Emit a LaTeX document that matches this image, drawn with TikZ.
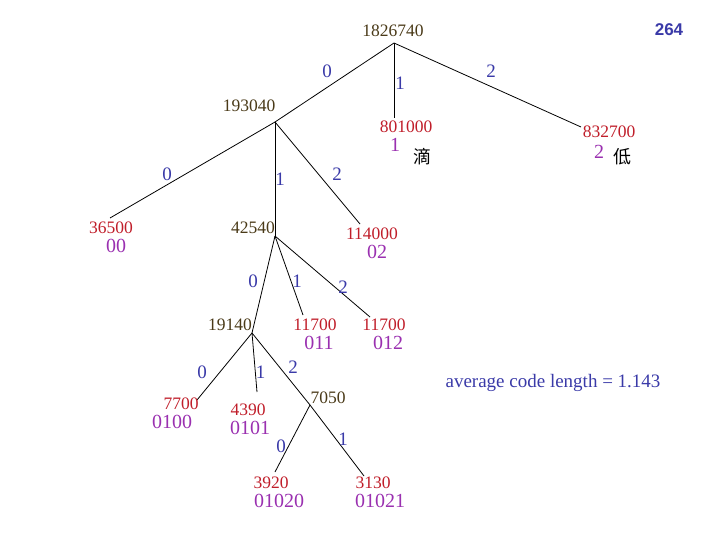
\documentclass[tikz,border=0pt]{standalone}
\usepackage{fontspec}
\setmainfont{Liberation Serif}
\newfontfamily\cjk{Noto Sans CJK SC}
\newfontfamily\arialb{Liberation Sans}
\definecolor{brn}{HTML}{4A3A18}
\definecolor{rd}{HTML}{C01E2A}
\definecolor{pur}{HTML}{9A30B0}
\definecolor{blu}{HTML}{3A3AA8}
\tikzset{
  edge/.style={draw=black, line width=0.8pt},
  inner/.style={text=brn, font=\fontsize{17.5}{17.5}\selectfont, inner sep=0pt},
  val/.style={text=rd, font=\fontsize{17.5}{17.5}\selectfont, inner sep=0pt},
  code/.style={text=pur, font=\fontsize{20}{20}\selectfont, inner sep=0pt},
  lab/.style={text=blu, font=\fontsize{19}{19}\selectfont, inner sep=0pt},
  chr/.style={text=black, font=\cjk\fontsize{18}{18}\selectfont, inner sep=0pt}
}
\begin{document}
\begin{tikzpicture}[x=1pt,y=-1pt]
\useasboundingbox (0,0) rectangle (720,540);
% vertices
\coordinate (r) at (394,43);
\coordinate (a) at (275,122);
\coordinate (b) at (275,236);
\coordinate (c) at (252,333);
\coordinate (d) at (310,405);
% leaf ends
\coordinate (e801) at (394,118);
\coordinate (e832) at (581,127);
\coordinate (e365) at (110,218);
\coordinate (e114) at (360,224);
\coordinate (e117a) at (303,315);
\coordinate (e117b) at (370,317);
\coordinate (e77) at (197,400);
\coordinate (e439) at (257,392);
\coordinate (e392) at (275,472);
\coordinate (e313) at (364,476);
% edges
\draw[edge] (r) -- (a);
\draw[edge] (r) -- (e801);
\draw[edge] (r) -- (e832);
\draw[edge] (a) -- (e365);
\draw[edge] (a) -- (b);
\draw[edge] (a) -- (e114);
\draw[edge] (b) -- (c);
\draw[edge] (b) -- (e117a);
\draw[edge] (b) -- (e117b);
\draw[edge] (c) -- (e77);
\draw[edge] (c) -- (e439);
\draw[edge] (c) -- (d);
\draw[edge] (d) -- (e392);
\draw[edge] (d) -- (e313);
% internal values
\node[inner] (nr) at (393,31) {1826740};
\node[inner] (na) at (249,106) {193040};
\node[inner] (nb) at (253,228) {42540};
\node[inner] (nc) at (230,325) {19140};
\node[inner] (nd) at (328,398) {7050};
% leaves
\node[val] (v801) at (406,127) {801000};
\node[code] (c801) at (395,145) {1};
\node[chr] (z1) at (422,157) {滴};
\node[val] (v832) at (609,132) {832700};
\node[code] (c832) at (599,152) {2};
\node[chr] (z2) at (622,157) {低};
\node[val] (v365) at (111,228) {36500};
\node[code] (c365) at (116,246) {00};
\node[val] (v114) at (372,234) {114000};
\node[code] (c114) at (377,252) {02};
\node[val] (v117a) at (315,325) {11700};
\node[code] (c117a) at (319,343) {011};
\node[val] (v117b) at (384,325) {11700};
\node[code] (c117b) at (388,343) {012};
\node[val] (v77) at (181,404) {7700};
\node[code] (c77) at (172,422) {0100};
\node[val] (v439) at (248,410) {4390};
\node[code] (c439) at (250,428) {0101};
\node[val] (v392) at (271,483) {3920};
\node[code] (c392) at (279,501) {01020};
\node[val] (v313) at (373,483) {3130};
\node[code] (c313) at (380,501) {01021};
% edge labels
\node[lab] (l1) at (327,71) {0};
\node[lab] (l2) at (400,83) {1};
\node[lab] (l3) at (491,71) {2};
\node[lab] (l4) at (167,174) {0};
\node[lab] (l5) at (280,179) {1};
\node[lab] (l6) at (337,174) {2};
\node[lab] (l7) at (253,281) {0};
\node[lab] (l8) at (297,281) {1};
\node[lab] (l9) at (343,287) {2};
\node[lab] (l10) at (202,372) {0};
\node[lab] (l11) at (260.5,372) {1};
\node[lab] (l12) at (293,367) {2};
\node[lab] (l13) at (281,446) {0};
\node[lab] (l14) at (343,439) {1};
% extras
\node[text=blu, font=\arialb\bfseries\fontsize{17}{17}\selectfont, inner sep=0pt] (n264) at (669,30) {264};
\node[lab] (avg) at (553,383) {average code length = 1.143};
\end{tikzpicture}
\end{document}
